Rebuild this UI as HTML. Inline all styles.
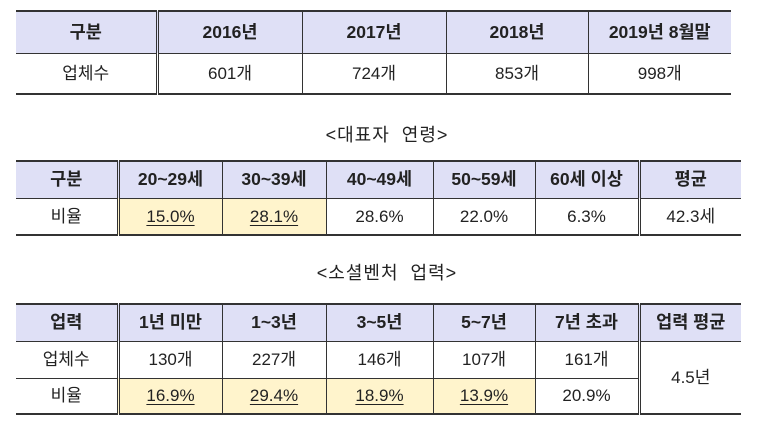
<!DOCTYPE html>
<html><head><meta charset="utf-8"><style>
body{margin:0;background:#fff;width:774px;height:427px;position:relative;overflow:hidden;font-family:"Liberation Sans","Noto Sans CJK KR",sans-serif;color:#222}
table{position:absolute;left:16px;border-collapse:collapse;table-layout:fixed}
td{text-align:center;padding:0;font-size:17px;border-left:1px solid #333;border-top:1px solid #333;border-bottom:1px solid #333;line-height:1}
td:first-child{border-left:none}
tr:first-child td{border-top:2px solid #333;background:#dfe0f6;font-weight:bold;font-size:17.5px}
tr:last-child td{border-bottom:2px solid #333}
td.d{border-left:3px double #333}
.y{background:#fff4cc}
.u{text-decoration:underline;text-underline-offset:3px}
.t{position:absolute;width:774px;text-align:center;font-size:18px;left:0;letter-spacing:1px;word-spacing:6px}
</style></head><body>
<table style="top:10px;width:715px">
<col style="width:141px"><col style="width:145px"><col style="width:144px"><col style="width:142px"><col style="width:143px">
<tr style="height:42px"><td>구분</td><td class="d">2016년</td><td>2017년</td><td>2018년</td><td>2019년 8월말</td></tr>
<tr style="height:41px"><td>업체수</td><td class="d">601개</td><td>724개</td><td>853개</td><td>998개</td></tr>
</table>
<div class="t" style="top:121px">&lt;대표자 연령&gt;</div>
<table style="top:160px;width:725px">
<col style="width:102px"><col style="width:104px"><col style="width:104px"><col style="width:107px"><col style="width:102px"><col style="width:104px"><col style="width:102px">
<tr style="height:37px"><td>구분</td><td class="d">20~29세</td><td>30~39세</td><td>40~49세</td><td>50~59세</td><td>60세 이상</td><td class="d">평균</td></tr>
<tr style="height:37px"><td>비율</td><td class="d y"><span class="u">15.0%</span></td><td class="y"><span class="u">28.1%</span></td><td>28.6%</td><td>22.0%</td><td>6.3%</td><td class="d">42.3세</td></tr>
</table>
<div class="t" style="top:259px">&lt;소셜벤처 업력&gt;</div>
<table style="top:303px;width:725px">
<col style="width:102px"><col style="width:104px"><col style="width:104px"><col style="width:107px"><col style="width:102px"><col style="width:104px"><col style="width:102px">
<tr style="height:37px"><td>업력</td><td class="d">1년 미만</td><td>1~3년</td><td>3~5년</td><td>5~7년</td><td>7년 초과</td><td class="d">업력 평균</td></tr>
<tr style="height:37px"><td>업체수</td><td class="d">130개</td><td>227개</td><td>146개</td><td>107개</td><td>161개</td><td class="d" rowspan="2" style="border-bottom:2px solid #333">4.5년</td></tr>
<tr style="height:36px"><td>비율</td><td class="d y"><span class="u">16.9%</span></td><td class="y"><span class="u">29.4%</span></td><td class="y"><span class="u">18.9%</span></td><td class="y"><span class="u">13.9%</span></td><td>20.9%</td></tr>
</table>
</body></html>
